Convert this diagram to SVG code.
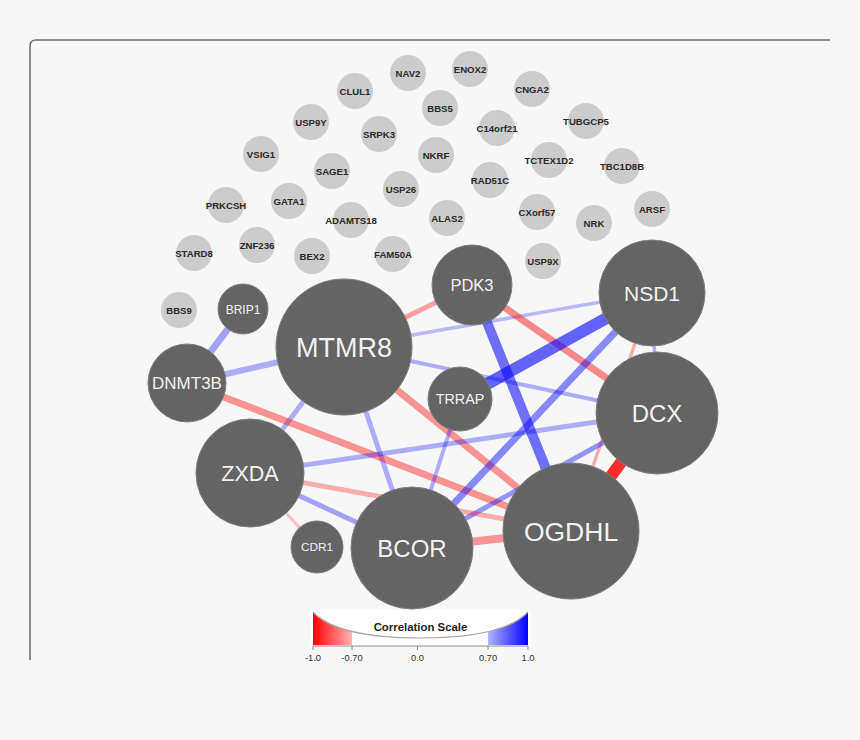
<svg xmlns="http://www.w3.org/2000/svg" width="860" height="740" viewBox="0 0 860 740">
<defs>
<style>
.bg{fill:#f7f7f7}
.frame{fill:none;stroke:#6a6a6a;stroke-width:1.5}
.e{fill:none;stroke-linecap:butt}
.b{stroke:#0000ff}
.r{stroke:#ff0000}
.g circle{fill:#cccccc}
.g text{font-family:"Liberation Sans",Arial,sans-serif;font-size:9.6px;fill:#2a2a2a;text-anchor:middle;font-weight:bold}
.d circle{fill:#646464;stroke:#7c7c7c;stroke-width:1}
.d text{font-family:"Liberation Sans",Arial,sans-serif;fill:#f2f2f2;text-anchor:middle}
.tick{font-family:"Liberation Sans",Arial,sans-serif;font-size:9.4px;fill:#333;text-anchor:middle}
</style>
<linearGradient id="scale" x1="313" y1="0" x2="528" y2="0" gradientUnits="userSpaceOnUse">
<stop offset="0" stop-color="#ff0000"/>
<stop offset="0.181" stop-color="#ffb4b4"/>
<stop offset="0.182" stop-color="#ffffff"/>
<stop offset="0.813" stop-color="#ffffff"/>
<stop offset="0.814" stop-color="#b4b4ff"/>
<stop offset="1" stop-color="#0000ff"/>
</linearGradient>
</defs>
<rect class="bg" x="0" y="0" width="860" height="740"/>
<path class="frame" d="M30,660 V46 Q30,40 36,40 H830"/>

<g id="connectors">
<line class="e b" x1="243" y1="309" x2="187" y2="383" stroke-width="7" stroke-opacity="0.35"/>
<line class="e b" x1="187" y1="383" x2="344" y2="347" stroke-width="6" stroke-opacity="0.3"/>
<line class="e b" x1="344" y1="347" x2="250" y2="473" stroke-width="5" stroke-opacity="0.3"/>
<line class="e b" x1="344" y1="347" x2="412" y2="548" stroke-width="5" stroke-opacity="0.3"/>
<line class="e r" x1="344" y1="347" x2="472" y2="285" stroke-width="5" stroke-opacity="0.35"/>
<line class="e b" x1="344" y1="347" x2="652" y2="293" stroke-width="3.5" stroke-opacity="0.25"/>
<line class="e b" x1="344" y1="347" x2="657" y2="413" stroke-width="4" stroke-opacity="0.3"/>
<line class="e r" x1="344" y1="347" x2="571" y2="531" stroke-width="7" stroke-opacity="0.4"/>
<line class="e r" x1="187" y1="383" x2="571" y2="531" stroke-width="7" stroke-opacity="0.4"/>
<line class="e b" x1="472" y1="285" x2="571" y2="531" stroke-width="10" stroke-opacity="0.55"/>
<line class="e r" x1="472" y1="285" x2="657" y2="413" stroke-width="7" stroke-opacity="0.45"/>
<line class="e b" x1="652" y1="293" x2="460" y2="399" stroke-width="12" stroke-opacity="0.6"/>
<line class="e b" x1="652" y1="293" x2="412" y2="548" stroke-width="7" stroke-opacity="0.45"/>
<line class="e b" x1="652" y1="293" x2="657" y2="413" stroke-width="3.5" stroke-opacity="0.3"/>
<line class="e r" x1="652" y1="293" x2="571" y2="531" stroke-width="3.5" stroke-opacity="0.3"/>
<line class="e r" x1="657" y1="413" x2="571" y2="531" stroke-width="12" stroke-opacity="0.82"/>
<line class="e b" x1="250" y1="473" x2="657" y2="413" stroke-width="5" stroke-opacity="0.3"/>
<line class="e b" x1="657" y1="413" x2="412" y2="548" stroke-width="5" stroke-opacity="0.4"/>
<line class="e b" x1="460" y1="399" x2="412" y2="548" stroke-width="4" stroke-opacity="0.3"/>
<line class="e r" x1="250" y1="473" x2="571" y2="531" stroke-width="5" stroke-opacity="0.3"/>
<line class="e b" x1="250" y1="473" x2="412" y2="548" stroke-width="5" stroke-opacity="0.35"/>
<line class="e r" x1="250" y1="473" x2="317" y2="547" stroke-width="3" stroke-opacity="0.22"/>
<line class="e r" x1="412" y1="548" x2="571" y2="531" stroke-width="8" stroke-opacity="0.4"/>
</g>

<g id="NAV2" class="g"><circle cx="408" cy="73" r="18"/><text x="408" y="76.5">NAV2</text></g>
<g id="ENOX2" class="g"><circle cx="470" cy="69" r="18"/><text x="470" y="72.5">ENOX2</text></g>
<g id="CLUL1" class="g"><circle cx="355" cy="91" r="18"/><text x="355" y="94.5">CLUL1</text></g>
<g id="CNGA2" class="g"><circle cx="532" cy="89" r="18"/><text x="532" y="92.5">CNGA2</text></g>
<g id="BBS5" class="g"><circle cx="440" cy="108" r="18"/><text x="440" y="111.5">BBS5</text></g>
<g id="USP9Y" class="g"><circle cx="311" cy="122" r="18"/><text x="311" y="125.5">USP9Y</text></g>
<g id="C14orf21" class="g"><circle cx="497" cy="128" r="18"/><text x="497" y="131.5">C14orf21</text></g>
<g id="TUBGCP5" class="g"><circle cx="586" cy="121" r="18"/><text x="586" y="124.5">TUBGCP5</text></g>
<g id="SRPK3" class="g"><circle cx="379" cy="134" r="18"/><text x="379" y="137.5">SRPK3</text></g>
<g id="VSIG1" class="g"><circle cx="261" cy="154" r="18"/><text x="261" y="157.5">VSIG1</text></g>
<g id="NKRF" class="g"><circle cx="436" cy="155" r="18"/><text x="436" y="158.5">NKRF</text></g>
<g id="TCTEX1D2" class="g"><circle cx="549" cy="160" r="18"/><text x="549" y="163.5">TCTEX1D2</text></g>
<g id="TBC1D8B" class="g"><circle cx="622" cy="166" r="18"/><text x="622" y="169.5">TBC1D8B</text></g>
<g id="SAGE1" class="g"><circle cx="332" cy="171" r="18"/><text x="332" y="174.5">SAGE1</text></g>
<g id="RAD51C" class="g"><circle cx="490" cy="180" r="18"/><text x="490" y="183.5">RAD51C</text></g>
<g id="USP26" class="g"><circle cx="401" cy="189" r="18"/><text x="401" y="192.5">USP26</text></g>
<g id="GATA1" class="g"><circle cx="289" cy="201" r="18"/><text x="289" y="204.5">GATA1</text></g>
<g id="PRKCSH" class="g"><circle cx="226" cy="205" r="18"/><text x="226" y="208.5">PRKCSH</text></g>
<g id="ARSF" class="g"><circle cx="652" cy="209" r="18"/><text x="652" y="212.5">ARSF</text></g>
<g id="CXorf57" class="g"><circle cx="537" cy="212" r="18"/><text x="537" y="215.5">CXorf57</text></g>
<g id="ALAS2" class="g"><circle cx="447" cy="218" r="18"/><text x="447" y="221.5">ALAS2</text></g>
<g id="ADAMTS18" class="g"><circle cx="351" cy="220" r="18"/><text x="351" y="223.5">ADAMTS18</text></g>
<g id="NRK" class="g"><circle cx="594" cy="223" r="18"/><text x="594" y="226.5">NRK</text></g>
<g id="ZNF236" class="g"><circle cx="257" cy="245" r="18"/><text x="257" y="248.5">ZNF236</text></g>
<g id="STARD8" class="g"><circle cx="194" cy="253" r="18"/><text x="194" y="256.5">STARD8</text></g>
<g id="FAM50A" class="g"><circle cx="393" cy="254" r="18"/><text x="393" y="257.5">FAM50A</text></g>
<g id="BEX2" class="g"><circle cx="312" cy="256" r="18"/><text x="312" y="259.5">BEX2</text></g>
<g id="USP9X" class="g"><circle cx="543" cy="261" r="18"/><text x="543" y="264.5">USP9X</text></g>
<g id="BBS9" class="g"><circle cx="179" cy="310" r="18"/><text x="179" y="313.5">BBS9</text></g>

<g id="BRIP1" class="d"><circle cx="243" cy="309" r="25"/><text x="243" y="313.5" font-size="12">BRIP1</text></g>
<g id="MTMR8" class="d"><circle cx="344" cy="347" r="68"/><text x="344" y="357" font-size="27">MTMR8</text></g>
<g id="DNMT3B" class="d"><circle cx="187" cy="383" r="39"/><text x="187" y="389" font-size="17">DNMT3B</text></g>
<g id="PDK3" class="d"><circle cx="472" cy="285" r="40"/><text x="472" y="291" font-size="16.5">PDK3</text></g>
<g id="NSD1" class="d"><circle cx="652" cy="293" r="53"/><text x="652" y="300.5" font-size="21">NSD1</text></g>
<g id="TRRAP" class="d"><circle cx="460" cy="399" r="32"/><text x="460" y="404" font-size="14.3">TRRAP</text></g>
<g id="DCX" class="d"><circle cx="657" cy="413" r="61"/><text x="657" y="421.5" font-size="24">DCX</text></g>
<g id="ZXDA" class="d"><circle cx="250" cy="473" r="54"/><text x="250" y="481" font-size="21.5">ZXDA</text></g>
<g id="CDR1" class="d"><circle cx="317" cy="547" r="26"/><text x="317" y="551" font-size="11.8">CDR1</text></g>
<g id="BCOR" class="d"><circle cx="412" cy="548" r="61"/><text x="412" y="556.5" font-size="24">BCOR</text></g>
<g id="OGDHL" class="d"><circle cx="571" cy="531" r="68"/><text x="571" y="540.5" font-size="26.5">OGDHL</text></g>

<g id="legend">
<rect x="310" y="610" width="221" height="37" fill="#ffffff"/>
<path d="M313,612 C330,630 370,638 420.5,638 C471,638 511,630 528,612 V645 H313 Z" fill="url(#scale)"/>
<path d="M313,612 C330,630 370,638 420.5,638 C471,638 511,630 528,612" fill="none" stroke="#a8a8a8" stroke-width="1.2"/>
<line x1="313" y1="646" x2="528" y2="646" stroke="#8a8a8a" stroke-width="1"/>
<g stroke="#8a8a8a" stroke-width="1">
<line x1="313" y1="646" x2="313" y2="650"/>
<line x1="352" y1="646" x2="352" y2="650"/>
<line x1="417.5" y1="646" x2="417.5" y2="650"/>
<line x1="488" y1="646" x2="488" y2="650"/>
<line x1="528" y1="646" x2="528" y2="650"/>
</g>
<text x="420.5" y="631" font-family="'Liberation Sans',Arial,sans-serif" font-size="11.4" font-weight="bold" fill="#222" text-anchor="middle">Correlation Scale</text>
<text class="tick" x="313" y="661">-1.0</text>
<text class="tick" x="352" y="661">-0.70</text>
<text class="tick" x="417.5" y="661">0.0</text>
<text class="tick" x="488" y="661">0.70</text>
<text class="tick" x="528" y="661">1.0</text>
</g>
</svg>
